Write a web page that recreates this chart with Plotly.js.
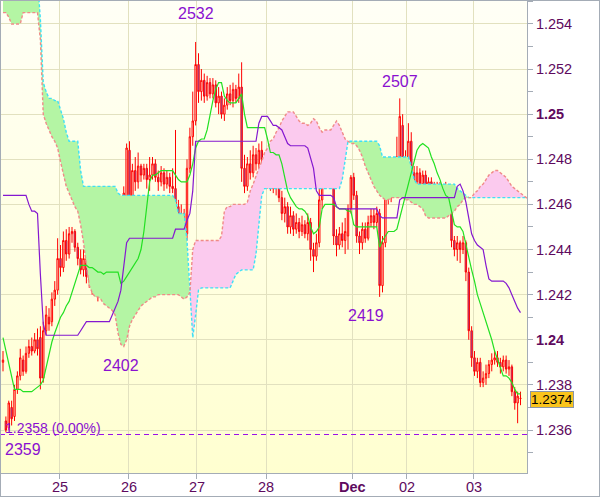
<!DOCTYPE html>
<html><head><meta charset="utf-8">
<script src="https://cdn.plot.ly/plotly-3.0.1.min.js"></script>
<style>
body{margin:0;background:#fff}
#wrap{position:relative;width:600px;height:497px}
#chart{width:600px;height:497px;background:linear-gradient(#fffff6,#ffffd0) 0 0/527px 473px no-repeat,#ffffff}
#frame{position:absolute;left:0;top:0;width:600px;height:497px;box-sizing:border-box;border:1px solid #a4acb6;pointer-events:none}
</style></head><body>
<div id="wrap"><div id="chart"></div><div id="frame"></div></div>
<script>
const opens=[1.2390,1.2364,1.2361,1.2370,1.2366,1.2378,1.2384,1.2391,1.2386,1.2394,
1.2397,1.2395,1.2400,1.2401,1.2383,1.2404,1.2410,1.2408,1.2418,1.2422,
1.2436,1.2432,1.2444,1.2438,1.2447,1.2448,1.2441,1.2436,1.2431,1.2436,
1.2428,1.2426,1.2423,1.2425,1.2422,1.2428,1.2424,1.2432,1.2438,1.2435,
1.2440,1.2437,1.2414,1.2457,1.2484,1.2462,1.2475,1.2470,1.2477,1.2473,
1.2476,1.2471,1.2473,1.2478,1.2472,1.2470,1.2474,1.2469,1.2472,1.2468,
1.2467,1.2459,1.2450,1.2456,1.2447,1.2476,1.2490,1.2497,1.2522,1.2510,
1.2515,1.2508,1.2514,1.2509,1.2513,1.2505,1.2508,1.2500,1.2504,1.2509,
1.2506,1.2511,1.2507,1.2512,1.2476,1.2468,1.2478,1.2474,1.2482,1.2478,
1.2484,1.2480,1.2475,1.2470,1.2473,1.2467,1.2469,1.2463,1.2456,1.2459,
1.2450,1.2455,1.2449,1.2452,1.2448,1.2451,1.2447,1.2452,1.2440,1.2437,
1.2443,1.2462,1.2478,1.2471,1.2479,1.2474,1.2446,1.2442,1.2447,1.2444,
1.2446,1.2458,1.2472,1.2464,1.2446,1.2443,1.2449,1.2445,1.2452,1.2455,
1.2452,1.2456,1.2424,1.2443,1.2465,1.2463,1.2468,1.2472,1.2481,1.2495,
1.2474,1.2480,1.2488,1.2474,1.2470,1.2474,1.2469,1.2473,1.2467,1.2470,
1.2466,1.2468,1.2466,1.2468,1.2466,1.2468,1.2458,1.2444,1.2440,1.2443,
1.2440,1.2443,1.2430,1.2404,1.2392,1.2386,1.2390,1.2381,1.2383,1.2385,
1.2389,1.2391,1.2392,1.2390,1.2388,1.2391,1.2387,1.2388,1.2377,1.2372,
1.2374];
const highs=[1.2395,1.2366,1.2373,1.2373,1.2380,1.2386,1.2396,1.2393,1.2397,1.2400,
1.2401,1.2403,1.2405,1.2406,1.2408,1.2415,1.2414,1.2421,1.2426,1.2445,
1.2442,1.2448,1.2449,1.2450,1.2450,1.2449,1.2443,1.2440,1.2440,1.2438,
1.2432,1.2429,1.2428,1.2427,1.2430,1.2432,1.2435,1.2446,1.2442,1.2447,
1.2444,1.2440,1.2468,1.2487,1.2488,1.2478,1.2481,1.2483,1.2478,1.2478,
1.2478,1.2481,1.2481,1.2480,1.2475,1.2477,1.2476,1.2475,1.2474,1.2476,
1.2493,1.2462,1.2460,1.2458,1.2480,1.2494,1.2510,1.2532,1.2527,1.2520,
1.2518,1.2517,1.2516,1.2516,1.2515,1.2512,1.2510,1.2507,1.2512,1.2513,
1.2514,1.2513,1.2518,1.2523,1.2482,1.2481,1.2484,1.2486,1.2485,1.2487,
1.2488,1.2483,1.2477,1.2476,1.2475,1.2472,1.2471,1.2466,1.2463,1.2461,
1.2459,1.2457,1.2456,1.2454,1.2455,1.2453,1.2456,1.2454,1.2443,1.2447,
1.2470,1.2486,1.2484,1.2487,1.2481,1.2477,1.2449,1.2450,1.2452,1.2454,
1.2460,1.2473,1.2474,1.2466,1.2448,1.2452,1.2452,1.2455,1.2458,1.2458,
1.2459,1.2458,1.2446,1.2467,1.2469,1.2471,1.2476,1.2490,1.2507,1.2500,
1.2484,1.2496,1.2492,1.2477,1.2477,1.2476,1.2475,1.2475,1.2472,1.2472,
1.2470,1.2470,1.2470,1.2469,1.2470,1.2469,1.2460,1.2446,1.2446,1.2444,
1.2446,1.2444,1.2432,1.2406,1.2395,1.2392,1.2392,1.2386,1.2389,1.2391,
1.2394,1.2395,1.2395,1.2392,1.2393,1.2393,1.2391,1.2389,1.2379,1.2377,
1.2377];
const lows=[1.2386,1.2359,1.2360,1.2362,1.2364,1.2376,1.2382,1.2384,1.2385,1.2392,
1.2393,1.2394,1.2393,1.2378,1.2381,1.2402,1.2404,1.2406,1.2415,1.2420,
1.2428,1.2430,1.2435,1.2436,1.2443,1.2439,1.2433,1.2429,1.2428,1.2425,
1.2423,1.2420,1.2421,1.2417,1.2420,1.2421,1.2422,1.2430,1.2431,1.2433,
1.2430,1.2402,1.2412,1.2455,1.2460,1.2458,1.2466,1.2467,1.2470,1.2471,
1.2467,1.2466,1.2471,1.2470,1.2466,1.2468,1.2466,1.2467,1.2465,1.2465,
1.2455,1.2443,1.2444,1.2442,1.2444,1.2474,1.2486,1.2495,1.2505,1.2506,
1.2505,1.2506,1.2507,1.2507,1.2503,1.2500,1.2498,1.2497,1.2502,1.2504,
1.2503,1.2505,1.2505,1.2470,1.2465,1.2466,1.2471,1.2472,1.2475,1.2476,
1.2477,1.2473,1.2467,1.2466,1.2465,1.2464,1.2461,1.2453,1.2452,1.2447,
1.2447,1.2446,1.2447,1.2445,1.2446,1.2445,1.2444,1.2435,1.2430,1.2435,
1.2441,1.2458,1.2468,1.2469,1.2470,1.2442,1.2437,1.2440,1.2441,1.2438,
1.2440,1.2456,1.2462,1.2443,1.2438,1.2440,1.2443,1.2444,1.2450,1.2449,
1.2450,1.2419,1.2421,1.2441,1.2460,1.2461,1.2466,1.2470,1.2478,1.2470,
1.2470,1.2476,1.2471,1.2467,1.2468,1.2467,1.2467,1.2464,1.2465,1.2463,
1.2464,1.2463,1.2464,1.2463,1.2464,1.2456,1.2441,1.2437,1.2435,1.2434,
1.2438,1.2426,1.2400,1.2388,1.2384,1.2383,1.2379,1.2379,1.2380,1.2383,
1.2386,1.2389,1.2388,1.2385,1.2386,1.2385,1.2384,1.2375,1.2369,1.2363,
1.2371];
const closes=[1.2391,1.2360,1.2372,1.2365,1.2378,1.2384,1.2392,1.2386,1.2394,1.2397,
1.2395,1.2400,1.2396,1.2383,1.2404,1.2411,1.2407,1.2418,1.2422,1.2436,
1.2432,1.2444,1.2438,1.2447,1.2448,1.2441,1.2436,1.2431,1.2436,1.2428,
1.2426,1.2423,1.2425,1.2422,1.2428,1.2424,1.2432,1.2438,1.2435,1.2440,
1.2437,1.2414,1.2465,1.2485,1.2462,1.2475,1.2470,1.2477,1.2473,1.2476,
1.2471,1.2473,1.2478,1.2472,1.2470,1.2474,1.2469,1.2472,1.2468,1.2467,
1.2459,1.2450,1.2456,1.2447,1.2476,1.2490,1.2497,1.2522,1.2510,1.2515,
1.2508,1.2514,1.2509,1.2513,1.2505,1.2508,1.2500,1.2504,1.2509,1.2506,
1.2511,1.2507,1.2512,1.2476,1.2468,1.2478,1.2474,1.2482,1.2478,1.2484,
1.2480,1.2475,1.2470,1.2473,1.2467,1.2469,1.2463,1.2456,1.2459,1.2450,
1.2455,1.2449,1.2452,1.2448,1.2451,1.2447,1.2452,1.2440,1.2437,1.2443,
1.2462,1.2478,1.2471,1.2479,1.2474,1.2446,1.2442,1.2447,1.2444,1.2448,
1.2458,1.2472,1.2464,1.2446,1.2443,1.2449,1.2445,1.2452,1.2455,1.2452,
1.2456,1.2424,1.2443,1.2465,1.2463,1.2468,1.2472,1.2481,1.2499,1.2474,
1.2480,1.2488,1.2474,1.2470,1.2474,1.2469,1.2473,1.2467,1.2470,1.2466,
1.2468,1.2466,1.2468,1.2466,1.2468,1.2458,1.2444,1.2440,1.2443,1.2440,
1.2443,1.2430,1.2404,1.2392,1.2386,1.2390,1.2381,1.2383,1.2385,1.2389,
1.2391,1.2392,1.2390,1.2388,1.2391,1.2387,1.2388,1.2377,1.2372,1.2375,
1.2374];
const tenkan=[1.2401,1.2395,1.2389,1.2383,1.2378,1.2378,1.2378,1.2377,1.2377,1.2377,
1.2377,1.2378,1.2379,1.2380,1.2382,1.2388,1.2394,1.2399,1.2403,1.2407,
1.2410,1.2412,1.2415,1.2417,1.2421,1.2425,1.2430,1.2433,1.2433,1.2433,
1.2432,1.2432,1.2431,1.2430,1.2430,1.2429,1.2430,1.2430,1.2430,1.2430,
1.2430,1.2425,1.2426,1.2428,1.2430,1.2432,1.2434,1.2436,1.2440,1.2448,
1.2459,1.2470,1.2473,1.2473,1.2474,1.2475,1.2475,1.2475,1.2475,1.2475,
1.2473,1.2471,1.2470,1.2470,1.2470,1.2473,1.2478,1.2485,1.2488,1.2489,
1.2489,1.2493,1.2500,1.2506,1.2511,1.2514,1.2514,1.2508,1.2506,1.2505,
1.2505,1.2505,1.2507,1.2509,1.2500,1.2494,1.2494,1.2494,1.2494,1.2494,
1.2494,1.2494,1.2489,1.2483,1.2483,1.2482,1.2482,1.2478,1.2472,1.2466,
1.2463,1.2461,1.2459,1.2458,1.2458,1.2457,1.2455,1.2450,1.2447,1.2448,
1.2450,1.2458,1.2460,1.2460,1.2460,1.2460,1.2459,1.2458,1.2458,1.2458,
1.2457,1.2457,1.2451,1.2450,1.2450,1.2450,1.2450,1.2450,1.2450,1.2450,
1.2450,1.2441,1.2444,1.2446,1.2448,1.2448,1.2448,1.2449,1.2454,1.2460,
1.2465,1.2470,1.2475,1.2479,1.2484,1.2486,1.2487,1.2486,1.2485,1.2481,
1.2478,1.2474,1.2471,1.2467,1.2464,1.2463,1.2457,1.2451,1.2450,1.2450,
1.2448,1.2442,1.2437,1.2431,1.2426,1.2420,1.2416,1.2412,1.2409,1.2404,
1.2400,1.2395,1.2391,1.2387,1.2384,1.2384,1.2383,1.2381,1.2378,1.2376,
1.2376];
const kijun=[1.2464,1.2464,1.2464,1.2464,1.2464,1.2464,1.2464,1.2464,1.2464,1.2460,
1.2457,1.2457,1.2456,1.2429,1.2407,1.2402,1.2402,1.2402,1.2402,1.2402,
1.2402,1.2402,1.2402,1.2402,1.2402,1.2402,1.2402,1.2404,1.2406,1.2408,
1.2408,1.2408,1.2408,1.2408,1.2408,1.2408,1.2408,1.2408,1.2411,1.2414,
1.2417,1.2422,1.2433,1.2443,1.2445,1.2445,1.2445,1.2445,1.2445,1.2445,
1.2445,1.2445,1.2445,1.2445,1.2445,1.2445,1.2445,1.2445,1.2445,1.2445,
1.2449,1.2449,1.2449,1.2449,1.2453,1.2456,1.2466,1.2488,1.2488,1.2488,
1.2488,1.2488,1.2488,1.2488,1.2488,1.2488,1.2488,1.2488,1.2488,1.2488,
1.2488,1.2488,1.2488,1.2488,1.2488,1.2488,1.2488,1.2488,1.2488,1.2496,
1.2499,1.2499,1.2499,1.2497,1.2495,1.2495,1.2494,1.2493,1.2490,1.2487,
1.2486,1.2486,1.2486,1.2486,1.2486,1.2486,1.2485,1.2481,1.2476,1.2466,
1.2464,1.2464,1.2464,1.2464,1.2464,1.2463,1.2459,1.2458,1.2458,1.2458,
1.2458,1.2458,1.2458,1.2458,1.2458,1.2458,1.2458,1.2458,1.2458,1.2458,
1.2458,1.2455,1.2454,1.2454,1.2454,1.2454,1.2454,1.2454,1.2462,1.2463,
1.2463,1.2463,1.2463,1.2463,1.2463,1.2463,1.2463,1.2463,1.2463,1.2463,
1.2463,1.2463,1.2463,1.2463,1.2463,1.2463,1.2463,1.2463,1.2468,1.2469,
1.2466,1.2461,1.2454,1.2447,1.2444,1.2442,1.2441,1.2440,1.2433,1.2427,
1.2426,1.2426,1.2426,1.2426,1.2426,1.2425,1.2423,1.2420,1.2417,1.2414,
1.2412];
const spanA=[1.2560,1.2560,1.2560,1.2560,1.2560,1.2560,1.2560,1.2560,1.2560,1.2560,
1.2560,1.2560,1.2560,1.2542,1.2514,1.2510,1.2507,1.2507,1.2506,1.2506,
1.2502,1.2498,1.2492,1.2488,1.2488,1.2488,1.2488,1.2475,1.2468,1.2468,
1.2468,1.2468,1.2468,1.2468,1.2468,1.2468,1.2468,1.2468,1.2468,1.2468,
1.2465,1.2464,1.2464,1.2464,1.2464,1.2464,1.2464,1.2464,1.2464,1.2464,
1.2464,1.2464,1.2464,1.2464,1.2464,1.2464,1.2464,1.2464,1.2464,1.2464,
1.2462,1.2456,1.2456,1.2456,1.2444,1.2420,1.2401,1.2411,1.2422,1.2423,
1.2423,1.2423,1.2423,1.2423,1.2423,1.2423,1.2423,1.2423,1.2423,1.2423,
1.2426,1.2429,1.2430,1.2431,1.2431,1.2431,1.2431,1.2431,1.2438,1.2451,
1.2464,1.2467,1.2467,1.2467,1.2467,1.2467,1.2467,1.2467,1.2467,1.2467,
1.2467,1.2467,1.2467,1.2467,1.2467,1.2467,1.2467,1.2467,1.2467,1.2467,
1.2467,1.2467,1.2467,1.2467,1.2467,1.2467,1.2467,1.2467,1.2471,1.2479,
1.2488,1.2488,1.2488,1.2488,1.2488,1.2488,1.2488,1.2488,1.2488,1.2488,
1.2488,1.2486,1.2481,1.2481,1.2481,1.2481,1.2481,1.2481,1.2481,1.2481,
1.2481,1.2481,1.2477,1.2471,1.2469,1.2469,1.2469,1.2469,1.2469,1.2469,
1.2469,1.2469,1.2469,1.2469,1.2469,1.2469,1.2469,1.2469,1.2467,1.2466,
1.2465,1.2464,1.2463,1.2463,1.2463,1.2463,1.2463,1.2463,1.2463,1.2463,
1.2463,1.2463,1.2463,1.2463,1.2463,1.2463,1.2463,1.2463,1.2463,1.2463,
1.2463,1.2463,1.2463,1.2463];
const spanB=[1.2545,1.2545,1.2543,1.2540,1.2540,1.2540,1.2540,1.2545,1.2545,1.2545,
1.2545,1.2545,1.2545,1.2533,1.2500,1.2496,1.2493,1.2490,1.2488,1.2485,
1.2479,1.2473,1.2468,1.2465,1.2462,1.2459,1.2457,1.2451,1.2443,1.2434,
1.2424,1.2421,1.2419,1.2419,1.2418,1.2416,1.2415,1.2414,1.2413,1.2411,
1.2403,1.2398,1.2397,1.2400,1.2406,1.2409,1.2411,1.2413,1.2415,1.2416,
1.2417,1.2418,1.2419,1.2419,1.2420,1.2420,1.2420,1.2420,1.2420,1.2420,
1.2420,1.2420,1.2419,1.2418,1.2419,1.2421,1.2440,1.2444,1.2444,1.2444,
1.2444,1.2444,1.2444,1.2444,1.2444,1.2444,1.2446,1.2457,1.2459,1.2459,
1.2460,1.2460,1.2460,1.2460,1.2460,1.2461,1.2466,1.2469,1.2473,1.2476,
1.2479,1.2483,1.2485,1.2488,1.2489,1.2492,1.2494,1.2497,1.2499,1.2501,
1.2501,1.2501,1.2499,1.2497,1.2496,1.2496,1.2495,1.2496,1.2498,1.2497,
1.2494,1.2492,1.2493,1.2493,1.2493,1.2495,1.2497,1.2495,1.2492,1.2489,
1.2488,1.2487,1.2487,1.2486,1.2484,1.2481,1.2477,1.2474,1.2471,1.2468,
1.2466,1.2464,1.2463,1.2462,1.2462,1.2463,1.2463,1.2463,1.2463,1.2463,
1.2462,1.2462,1.2461,1.2460,1.2460,1.2459,1.2458,1.2455,1.2454,1.2454,
1.2454,1.2454,1.2454,1.2454,1.2454,1.2455,1.2456,1.2457,1.2459,1.2460,
1.2462,1.2463,1.2463,1.2463,1.2465,1.2466,1.2468,1.2469,1.2471,1.2473,
1.2474,1.2475,1.2475,1.2474,1.2473,1.2472,1.2470,1.2468,1.2467,1.2466,
1.2465,1.2464,1.2463,1.2462];
const dayTickIdx=[19.8,43.8,67.4,91.6,121.5,140.4,163.8];
const dayLabels=['25','26','27','28','<b>Dec</b>','02','03'];
const priceTicks=[1.236,1.238,1.240,1.242,1.244,1.246,1.248,1.250,1.252,1.254];
const priceLabels=['1.236','1.238','<b>1.24</b>','1.242','1.244','1.246','1.248','<b>1.25</b>','1.252','1.254'];
const markIdx=[67,138,131,41,1];
const markText=['2532','2507','2419','2402','2359'];
const minLevel=1.2358;
const minText='1.2358 (0.00%)';

const GREEN='#b4f5a4', PINK='#fbcaee', CYAN='#3ee0f6', SALMON='#f08a88';
const AX='#a4acb6', GRID='#e2e1bf', TXT='#5e0a5e', MARK='#8a10d0';
const SANS='Liberation Sans, Arial, sans-serif';

const idx=closes.map((_,i)=>i);
const cidx=spanA.map((_,i)=>i);

function cloudPolys(A,B){
  const polys=[]; let cur=null;
  for(let i=0;i<A.length;i++){
    const s=A[i]>=B[i]?1:-1;
    if(!cur){cur={s,top:[[i,A[i]]],bot:[[i,B[i]]]};continue;}
    if(s!==cur.s){
      const d0=A[i-1]-B[i-1], d1=A[i]-B[i];
      const t=d0/(d0-d1), xc=i-1+t, yc=A[i-1]+t*(A[i]-A[i-1]);
      cur.top.push([xc,yc]); cur.bot.push([xc,yc]); polys.push(cur);
      cur={s,top:[[xc,yc],[i,A[i]]],bot:[[xc,yc],[i,B[i]]]};
    } else {cur.top.push([i,A[i]]); cur.bot.push([i,B[i]]);}
  }
  polys.push(cur); return polys;
}
const traces=[];
cloudPolys(spanA,spanB).forEach(p=>{
  const pts=p.top.concat(p.bot.slice().reverse());
  traces.push({type:'scatter',mode:'lines',x:pts.map(q=>q[0]),y:pts.map(q=>q[1]),
    fill:'toself',fillcolor:p.s>0?GREEN:PINK,line:{width:0},hoverinfo:'skip'});
});
traces.push({type:'scatter',mode:'lines',x:cidx,y:spanA,line:{color:CYAN,width:1.4,dash:'3px,2px'},hoverinfo:'skip'});
traces.push({type:'scatter',mode:'lines',x:cidx,y:spanB,line:{color:SALMON,width:1.4,dash:'3px,2px'},hoverinfo:'skip'});
traces.push({type:'candlestick',x:idx,open:opens,high:highs,low:lows,close:closes,
  increasing:{line:{color:'#ff0000',width:1},fillcolor:'rgba(0,0,0,0)'},
  decreasing:{line:{color:'#ff0000',width:1},fillcolor:'#6f5fd4'},
  whiskerwidth:0,hoverinfo:'none'});
traces.push({type:'scatter',mode:'lines',x:idx,y:tenkan,line:{color:'#22e022',width:1.2},hoverinfo:'skip'});
traces.push({type:'scatter',mode:'lines',x:idx,y:kijun,line:{color:'#8418d0',width:1.2},hoverinfo:'skip'});

const annotations=[];
const shiftsY=[28,17,-19,-30,-17], shiftsX=[0,0,-14,0,-3];
markIdx.forEach((m,k)=>{
  const isHigh=k<2;
  annotations.push({x:m,y:isHigh?highs[m]:lows[m],text:markText[k],showarrow:false,
    xanchor:k===4?'left':'center',yanchor:'middle',xshift:shiftsX[k],yshift:shiftsY[k],
    font:{family:SANS,size:16,color:MARK}});
});
annotations.push({xref:'paper',x:0,y:minLevel,text:minText,showarrow:false,xanchor:'left',yanchor:'middle',
  xshift:3,yshift:7,font:{family:SANS,size:14,color:MARK}});
dayTickIdx.forEach((t,k)=>{
  annotations.push({x:t,xref:'x',yref:'paper',y:0,text:dayLabels[k],showarrow:false,xanchor:'center',yanchor:'middle',
    yshift:-14,font:{family:SANS,size:14.5,color:TXT}});
});
const last=closes[closes.length-1];
annotations.push({xref:'paper',x:1,y:last,text:last.toFixed(4),showarrow:false,xanchor:'left',yanchor:'middle',
  xshift:3,yshift:-1,bgcolor:'#fac41c',bordercolor:'#8a96a8',borderwidth:1,borderpad:0,
  font:{family:SANS,size:13.5,color:'#000'}});

const layout={width:600,height:497,margin:{l:0,r:73,t:0,b:24},
  paper_bgcolor:'rgba(0,0,0,0)',plot_bgcolor:'rgba(0,0,0,0)',showlegend:false,hovermode:false,
  xaxis:{range:[-1.0435,182.26],tickmode:'array',tickvals:dayTickIdx,showticklabels:false,showgrid:true,gridcolor:GRID,
    ticks:'outside',ticklen:5,tickcolor:AX,showline:true,linecolor:AX,zeroline:false,rangeslider:{visible:false},fixedrange:true},
  yaxis:{side:'right',range:[1.234094,1.255061],tickmode:'array',tickvals:priceTicks,ticktext:priceLabels,
    showgrid:true,gridcolor:GRID,ticks:'outside',ticklen:5,tickcolor:AX,showline:true,linecolor:AX,zeroline:false,
    minor:{dtick:0.001,tick0:1.236,ticks:'outside',ticklen:5,tickcolor:AX,showgrid:false},
    tickfont:{family:SANS,size:14.5,color:TXT},fixedrange:true},
  shapes:[{type:'line',xref:'paper',x0:0,x1:1,y0:minLevel,y1:minLevel,line:{color:'#9a10e8',width:1,dash:'5px,4px'}}],
  annotations};
Plotly.newPlot('chart',traces,layout,{staticPlot:true,displayModeBar:false});
</script></body></html>
